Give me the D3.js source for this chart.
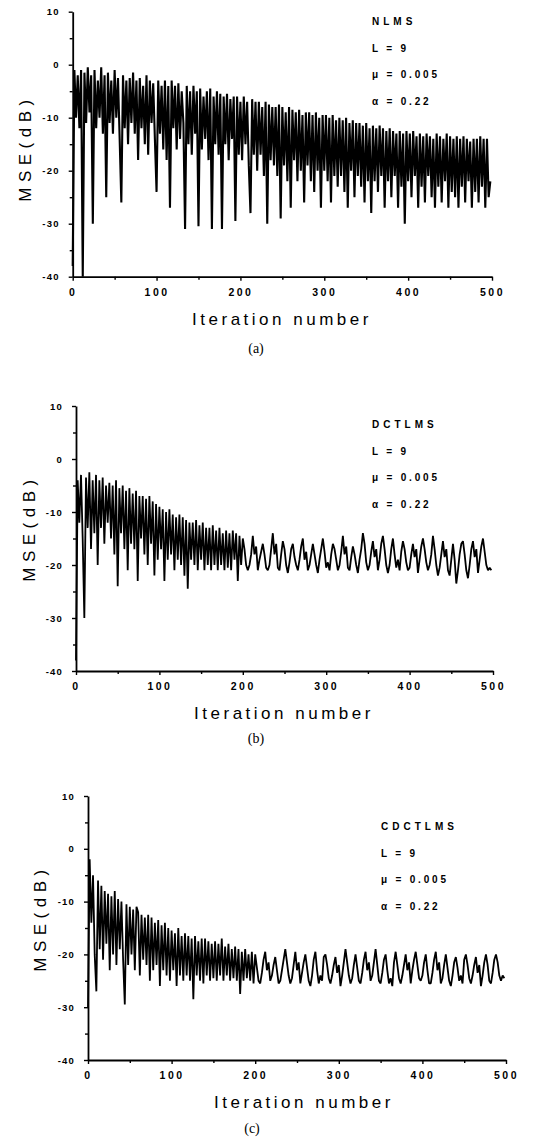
<!DOCTYPE html>
<html>
<head>
<meta charset="utf-8">
<script src="https://cdn.jsdelivr.net/npm/d3@7"></script>
<style>
  body { margin: 0; background: #fff; }
  svg { display: block; font-family: "Liberation Sans", Arial, sans-serif; }
</style>
</head>
<body>
<script>
// tick values
const yTicks = [10, 0, -10, -20, -30, -40];
const yMinor = [5, -5, -15, -25, -35];
const xTicks = [0, 100, 200, 300, 400, 500];
const xMinor = [50, 150, 250, 350, 450];

// MSE (dB), one sample every 2 iterations (0, 2, 4 ... 498)
const iterStep = 2;

const nlms = [
  -38,-1,-10,-2,-12,-1,-40,-1.5,-11,-0.5,
  -9,-2,-30,-1,-12,-3,-10,-0.5,-13,-2,
  -25,-1.5,-11,-3,-13,-1,-10,-2.5,-14,-26,
  -2,-12,-3,-15,-2.5,-11,-1.5,-13,-3,-18,
  -2.5,-12,-4,-15,-2,-17,-3,-11,-3.5,-14,
  -24,-3,-13,-4,-16,-3,-18,-4,-27,-3,
  -12,-4,-16,-3.5,-14,-5,-11,-31,-4,-15,
  -5,-17,-4,-13,-5,-30.5,-4.5,-16,-6,-14,
  -5,-18,-4.5,-31,-6,-15,-5,-17,-5.5,-31,
  -6,-15,-5.5,-18,-6.5,-14,-6,-29.5,-6,-17,
  -7,-18,-6,-15,-7,-19,-28,-6.5,-17,-7,
  -20,-7,-17,-8,-21,-7,-30,-7.5,-18,-8,
  -19,-8,-21,-7.5,-29,-8,-19,-9,-22,-8,
  -27,-8.5,-18,-9,-22,-8.5,-20,-9.5,-26,-9,
  -19,-9,-22,-9.5,-24,-9,-20,-10,-27,-9.5,
  -20,-9.5,-22,-10,-26,-9.5,-21,-10.5,-23,-10,
  -21,-10.5,-24,-10,-27,-11,-20,-10.5,-25,-11,
  -21,-11,-23,-11.5,-26,-11,-22,-12,-28,-11.5,
  -22,-12,-24,-11.5,-21,-12,-27,-12.5,-22,-12,
  -25,-12.5,-21,-13,-27,-12.5,-23,-13,-30,-12.5,
  -22,-13,-25,-12.5,-21,-13.5,-27,-13,-23,-13.5,
  -26,-13,-21,-13.5,-25,-14,-27,-13,-23,-13.5,
  -26,-14,-22,-13,-27,-13.5,-24,-14,-25,-13.5,
  -27,-14,-23,-13.5,-26,-14,-22,-14.5,-27,-14,
  -24,-14,-26,-13.5,-23,-14,-27,-14,-25,-22
];

const dctlms = [
  -38,-4,-12,-3,-15,-30,-3.5,-13,-2.5,-17,
  -4,-14,-3,-20,-4,-13,-3.5,-16,-5,-12,
  -4.5,-15,-5,-18,-4,-24,-5.5,-14,-5,-17,
  -6,-21,-5.5,-16,-6.5,-17,-6,-23,-7,-15,
  -7,-18,-7.5,-20,-7,-16,-8,-22,-8.5,-19,
  -9,-17,-9.5,-23,-10,-19,-9.5,-18,-10.5,-21,
  -11,-19,-10.5,-20,-11,-22,-11.5,-24.5,-12,-19,
  -12,-20,-11.5,-21,-12.5,-19,-12,-21,-13,-20,
  -13,-21,-12.5,-20,-13.5,-21,-13,-20,-14,-21,
  -13.5,-20.5,-14,-21,-13.5,-19,-14,-23,-14.5,-20,
  -15,-17,-20,-21,-20,-18,
  -14.5,-18,-16.5,-21,-19,-17.5,
  -16,-18,-20.5,-21,-20,-17,
  -14,-18,-16,-20.5,-21,-18,
  -15.5,-17,-20,-21.5,-19.5,-17,
  -16,-18.5,-20,-21,-19,-16.5,
  -15,-19,-17.5,-21,-20,-18,
  -16,-18,-20,-21.5,-19,-17,
  -15,-17.5,-20.5,-19.5,-21,-18,
  -16,-17,-19,-21,-20,-17.5,
  -14.5,-18,-16.5,-20.5,-21,-18.5,
  -16.5,-18,-20,-21.5,-19,-17,
  -14,-16,-19.5,-21,-20,-17.5,
  -15.5,-18.5,-17,-21,-19,-16,
  -14.5,-17,-20,-21.5,-20,-17,
  -15,-18,-20.5,-19,-21,-17.5,
  -15.5,-17,-19.5,-21,-20.5,-18,
  -16,-18.5,-17,-21.5,-19,-16.5,
  -15,-17,-19.5,-21,-20,-18,
  -14.5,-17,-20,-22,-20.5,-18,
  -15.5,-18.5,-17,-21,-22,-19,
  -16,-19,-23.5,-21,-18,-16,
  -15.5,-18,-21,-22.5,-20,-17,
  -15.5,-18.5,-17,-21.5,-19,-16.5,
  -15,-17.5,-20,-21,-20.5,-21
];

const cdctlms = [
  -30,-2,-14,-5,-20,-27,-6,-19,-7,-21,
  -8,-18,-8.5,-23,-9,-20,-8,-22,-9.5,-19,
  -10,-21,-29.5,-10.5,-22,-11,-20,-11.5,-23,-11,
  -12,-24,-12.5,-21,-13,-22,-12.5,-25,-13,-23,
  -14,-22,-13.5,-26,-14.5,-23,-14,-24,-15,-25,
  -15.5,-23,-16,-26,-15,-24,-16.5,-25,-16,-24,
  -16.5,-25,-17,-28.5,-16.5,-24,-17.5,-25,-17,-25.5,
  -17,-24,-17.5,-25,-18,-24.5,-17.5,-25,-18,-24,
  -17,-25,-18.5,-24,-18,-25,-19,-24.5,-18.5,-25,
  -19,-27.5,-19.5,-25,-19,-24.5,-20,-25,-19.5,-25.5,
  -20,-22.5,-25,-25.5,-23.5,-21,
  -19.5,-23,-21.5,-25,-24,-22,
  -20.5,-23,-25.5,-25,-23,-21,
  -19,-21.5,-24,-25.5,-24.5,-22,
  -19.5,-23,-21.5,-25.5,-23.5,-21.5,
  -20,-22.5,-25,-26,-24,-21,
  -19.5,-23,-25.5,-24,-25,-20.5,
  -20,-22,-24.5,-25.5,-24,-22,
  -20.5,-23.5,-22,-26,-24,-21.5,
  -19,-21.5,-24,-25.5,-24.5,-22,
  -20,-22.5,-25,-25.5,-23.5,-21,
  -19.5,-23,-21.5,-25,-24,-21.5,
  -19,-22,-25,-25.5,-23.5,-21,
  -20,-23,-25.5,-24.5,-26,-21.5,
  -19.5,-22,-24.5,-25.5,-24,-22,
  -20,-23,-21.5,-25.5,-23,-21,
  -19.5,-22,-24.5,-25,-24,-21.5,
  -20,-23,-25.5,-25.5,-23.5,-21,
  -19.5,-23,-21.5,-25.5,-24.5,-22,
  -20,-22.5,-25,-26,-24,-21.5,
  -20.5,-22.5,-25,-24,-25.5,-21,
  -20,-22,-24.5,-25.5,-24,-22,
  -20.5,-23.5,-22,-26,-24,-21.5,
  -20,-22,-25,-25.5,-23.5,-21,
  -20,-21.5,-24,-25,-24,-24.5
];

const algorithms = ["NLMS", "DCTLMS", "CDCTLMS"];
const captions = ["(a)", "(b)", "(c)"];
const params = ["L = 9", "\u03bc = 0.005", "\u03b1 = 0.22"];
const series = [nlms, dctlms, cdctlms];

// frame of each panel in page pixels
const frames = [
  { left: 72.7, right: 492, top: 11.7, bottom: 276.7, lw: 2.1, legX: 372, legY: 25, titleX: 282, capX: 256, capY: 353, yLabX: 31, yLabY: 148 },
  { left: 76, right: 493, top: 406, bottom: 671, lw: 1.8, legX: 372, legY: 428, titleX: 284, capX: 256, capY: 743, yLabX: 35, yLabY: 528 },
  { left: 88, right: 506, top: 796, bottom: 1060, lw: 1.8, legX: 381, legY: 830, titleX: 304, capX: 252, capY: 1133, yLabX: 46, yLabY: 918 }
];

const svg = d3.select("body").append("svg")
    .attr("width", 533)
    .attr("height", 1139);

series.forEach((data, k) => {
  const f = frames[k];
  const x = d3.scaleLinear().domain([0, 500]).range([f.left, f.right]);
  const y = d3.scaleLinear().domain([-40, 10]).range([f.bottom, f.top]);
  const g = svg.append("g").attr("class", "panel");

  const line = d3.line()
      .x((d, i) => x(i * iterStep))
      .y(d => y(d));

  g.append("path")
      .datum(data)
      .attr("fill", "none")
      .attr("stroke", "#000")
      .attr("stroke-width", f.lw)
      .attr("stroke-linejoin", "bevel")
      .attr("d", line);

  // axes
  const yAxis = g.append("g")
      .attr("transform", `translate(${f.left},0)`)
      .call(d3.axisLeft(y).tickValues(yTicks).tickSize(4).tickSizeOuter(0).tickPadding(9)
        .tickFormat(d => String(d)));
  g.append("g")
      .attr("transform", `translate(${f.left},0)`)
      .call(d3.axisLeft(y).tickValues(yMinor).tickSize(3).tickFormat(""))
      .call(s => s.select(".domain").remove());

  const xAxis = g.append("g")
      .attr("transform", `translate(0,${f.bottom})`)
      .call(d3.axisBottom(x).tickValues(xTicks).tickSize(4).tickSizeOuter(0).tickPadding(8)
        .tickFormat(d => String(d)));
  g.append("g")
      .attr("transform", `translate(0,${f.bottom})`)
      .call(d3.axisBottom(x).tickValues(xMinor).tickSize(3).tickFormat(""))
      .call(s => s.select(".domain").remove());

  g.selectAll(".domain").attr("stroke-width", 1.8);
  g.selectAll(".tick line").attr("stroke-width", 1.4);
  yAxis.selectAll("text")
      .attr("font-size", 9.5)
      .attr("font-weight", "bold")
      .attr("letter-spacing", 1.2)
      .attr("font-family", "Liberation Sans, Arial, sans-serif");
  xAxis.selectAll("text")
      .attr("font-size", 10.5)
      .attr("font-weight", "bold")
      .attr("letter-spacing", 2.5)
      .attr("font-family", "Liberation Sans, Arial, sans-serif");

  // axis titles
  g.append("text")
      .attr("x", f.titleX)
      .attr("y", f.bottom + 48)
      .attr("text-anchor", "middle")
      .attr("font-size", 17)
      .attr("letter-spacing", 3.5)
      .text("Iteration number");

  g.append("text")
      .attr("transform", `translate(${f.yLabX},${f.yLabY}) rotate(-90)`)
      .attr("text-anchor", "middle")
      .attr("font-size", 17)
      .attr("letter-spacing", 5.5)
      .text("MSE(dB)");

  g.append("text")
      .attr("x", f.capX)
      .attr("y", f.capY)
      .attr("text-anchor", "middle")
      .attr("font-family", "Liberation Serif, Times New Roman, serif")
      .attr("font-size", 14)
      .text(captions[k]);

  // parameter block
  const leg = g.append("g")
      .attr("font-weight", "bold")
      .attr("font-size", 10);
  leg.append("text")
      .attr("x", f.legX)
      .attr("y", f.legY)
      .attr("letter-spacing", 4)
      .text(algorithms[k]);
  params.forEach((p, i) => {
    leg.append("text")
        .attr("x", f.legX)
        .attr("y", f.legY + 26.5 * (i + 1))
        .attr("letter-spacing", 2.8)
        .text(p);
  });
});
</script>
</body>
</html>
